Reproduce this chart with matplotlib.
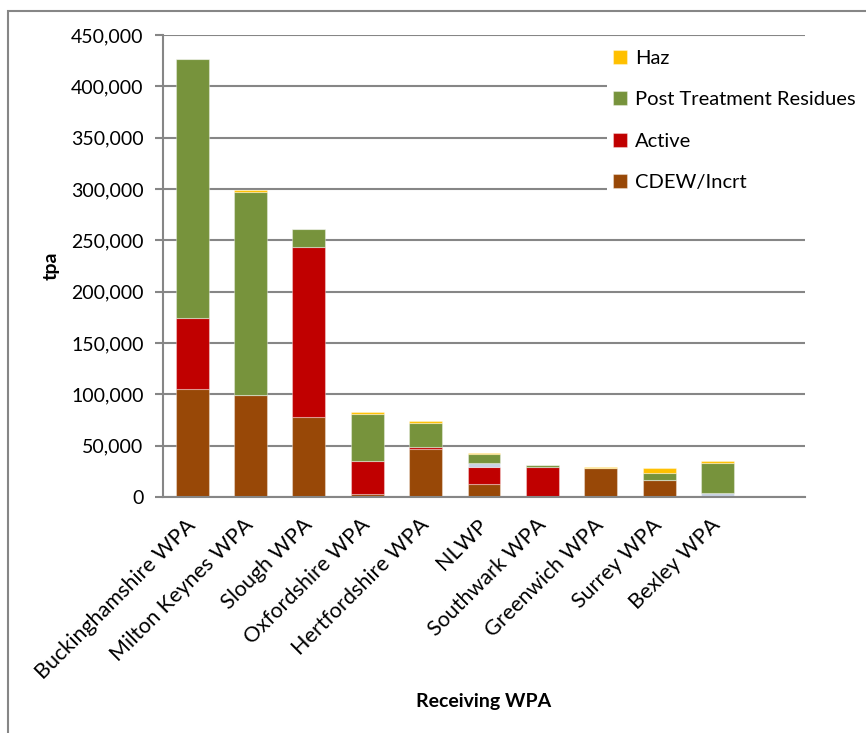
import matplotlib.pyplot as plt
from matplotlib.patches import Rectangle
from matplotlib.ticker import FuncFormatter
import numpy as np

plt.rcParams["font.family"] = ["Lato", "DejaVu Sans"]

categories = [
    "Buckinghamshire WPA", "Milton Keynes WPA", "Slough WPA",
    "Oxfordshire WPA", "Hertfordshire WPA", "NLWP", "Southwark WPA",
    "Greenwich WPA", "Surrey WPA", "Bexley WPA",
]

cdew_inert = [105000, 99000, 78000, 3000, 47000, 13000, 0, 28000, 16600, 0]
active = [69000, 0, 165500, 32000, 2000, 16000, 29000, 0, 0, 0]
other = [0, 0, 0, 0, 0, 4000, 0, 0, 0, 4000]
post_treatment = [253000, 198000, 18000, 46000, 23000, 9000, 2000, 0, 6800, 29000]
haz = [0, 2000, 0, 2000, 2000, 1000, 0, 1000, 4800, 2000]

y_ticks = np.arange(0, 450001, 50000)

GRID = "#868686"


def main():

    fig = plt.figure(figsize=(8.66, 7.33), dpi=100)

    # outer chart frame (cut off at right and bottom like the source)
    fig.patches.append(
        Rectangle(
            (8 / 866, -0.2), 2.0, 1.2 - 11 / 733,
            transform=fig.transFigure, fill=False,
            edgecolor=GRID, linewidth=1.5, zorder=0
        )
    )

    ax = fig.add_axes([163 / 866, 1 - 497 / 733, 642 / 866, 462 / 733])

    x = np.arange(len(categories))
    width = 0.565

    series = [
        (cdew_inert, "#984807", "CDEW/Incrt"),
        (active, "#C00000", "Active"),
        (other, "#C8D3E3", None),
        (post_treatment, "#77933C", "Post Treatment Residues"),
        (haz, "#FFC000", "Haz"),
    ]

    bottom = np.zeros(len(categories))
    handles = {}
    for values, color, label in series:
        bars = ax.bar(
            x, values, width, bottom=bottom, color=color,
            edgecolor=(1, 1, 1, 0.35), linewidth=0.8, zorder=3
        )
        if label:
            handles[label] = bars
        bottom += np.array(values)

    ax.set_xlim(-0.5, 10.5)
    ax.set_ylim(0, 450000)
    ax.set_yticks(y_ticks)
    ax.yaxis.set_major_formatter(FuncFormatter(lambda v, p: f"{int(v):,}"))
    ax.yaxis.grid(True, color=GRID, linewidth=1.5, zorder=1)

    for side in ["top", "right"]:
        ax.spines[side].set_visible(False)
    for side in ["left", "bottom"]:
        ax.spines[side].set_color(GRID)
        ax.spines[side].set_linewidth(1.5)
        ax.spines[side].set_zorder(4)

    ax.tick_params(axis="y", length=6, width=1.5, color=GRID,
                   labelsize=14, pad=8)
    ax.tick_params(axis="x", length=0, pad=18)

    ax.set_xticks(x)
    ax.set_xticklabels(
        categories, rotation=45, ha="right", va="center",
        rotation_mode="anchor", fontsize=15.5
    )

    ax.set_ylabel("tpa", fontsize=14, fontweight="bold", labelpad=8)
    ax.set_xlabel("Receiving WPA", fontsize=14, fontweight="bold")
    ax.xaxis.set_label_coords(0.5, -0.425)

    order = ["Haz", "Post Treatment Residues", "Active", "CDEW/Incrt"]
    leg = ax.legend(
        [handles[k] for k in order], order,
        loc="upper left", bbox_to_anchor=(607 / 866, 1 - 44 / 733),
        bbox_transform=fig.transFigure,
        fontsize=14.5, frameon=True, facecolor="white", edgecolor="none",
        fancybox=False, framealpha=1, borderpad=0.3,
        handlelength=0.7, handleheight=0.7, handletextpad=0.4,
        labelspacing=1.2, borderaxespad=0
    )
    leg.set_zorder(5)

    fig.savefig("out.png", dpi=100)
    plt.close(fig)


if __name__ == "__main__":
    main()
